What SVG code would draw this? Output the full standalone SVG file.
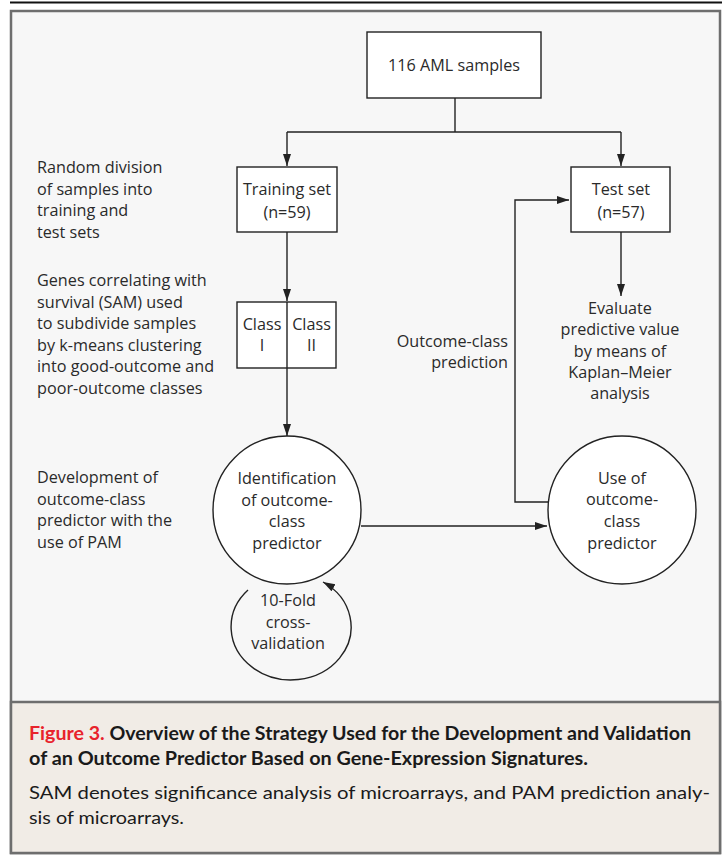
<svg xmlns="http://www.w3.org/2000/svg" width="722" height="855" viewBox="0 0 722 855">
<style>
.t{font-family:"Open Sans","DejaVu Sans",sans-serif;font-size:16.2px;fill:#2a2a2a}
.c{text-anchor:middle}
.r{text-anchor:end}
.box{fill:#fff;stroke:#222;stroke-width:1.4}
.ln{fill:none;stroke:#222;stroke-width:1.4}
.cap{font-family:Lato,"Open Sans",sans-serif;font-size:18px;fill:#1a1a1a}
</style>
<defs>
<marker id="ah" markerUnits="userSpaceOnUse" markerWidth="13" markerHeight="9" refX="12" refY="4" orient="auto">
<path d="M0,0 L12,4 L0,8 z" fill="#222"/>
</marker>
</defs>
<line x1="10" y1="2.5" x2="722" y2="2.5" stroke="#111" stroke-width="2"/>
<rect x="11" y="11" width="709" height="842" fill="#f7f7f7" stroke="#6e6e6e" stroke-width="2.5"/>
<rect x="11" y="702" width="709" height="151" fill="#f1ece6" stroke="#6e6e6e" stroke-width="2.5"/>

<g id="labels-left">
<text class="t" x="37" y="173">Random division</text>
<text class="t" x="37" y="194.5">of samples into</text>
<text class="t" x="37" y="216">training and</text>
<text class="t" x="37" y="237.5">test sets</text>
<text class="t" x="37" y="286">Genes correlating with</text>
<text class="t" x="37" y="307.5">survival (SAM) used</text>
<text class="t" x="37" y="329">to subdivide samples</text>
<text class="t" x="37" y="350.5">by k-means clustering</text>
<text class="t" x="37" y="372">into good-outcome and</text>
<text class="t" x="37" y="393.5">poor-outcome classes</text>
<text class="t" x="37" y="483">Development of</text>
<text class="t" x="37" y="504.5">outcome-class</text>
<text class="t" x="37" y="526">predictor with the</text>
<text class="t" x="37" y="547.5">use of PAM</text>
</g>

<g id="connectors">
<polyline class="ln" points="455,98 455,132"/>
<polyline class="ln" points="287,132 621,132"/>
<line class="ln" x1="287" y1="132" x2="287" y2="166" marker-end="url(#ah)"/>
<line class="ln" x1="621" y1="132" x2="621" y2="166" marker-end="url(#ah)"/>
<line class="ln" x1="287" y1="232" x2="287" y2="301" marker-end="url(#ah)"/>
<line class="ln" x1="287" y1="368" x2="287" y2="436" marker-end="url(#ah)"/>
<line class="ln" x1="621" y1="232" x2="621" y2="296" marker-end="url(#ah)"/>
<line class="ln" x1="361" y1="526" x2="547" y2="526" marker-end="url(#ah)"/>
<polyline class="ln" points="548,502 515,502 515,200 569,200" marker-end="url(#ah)"/>
<path class="ln" d="M248,590 A60 53 0 1 0 323,582" marker-end="url(#ah)"/>
</g>

<g id="n-aml">
<rect class="box" x="367" y="32" width="174" height="66"/>
<text class="t c" x="454" y="71">116 AML samples</text>
</g>

<g id="n-training">
<rect class="box" x="237" y="167" width="100" height="65"/>
<text class="t c" x="287" y="195">Training set</text>
<text class="t c" x="287" y="218">(n=59)</text>
</g>

<g id="n-test">
<rect class="box" x="571" y="167" width="99" height="65"/>
<text class="t c" x="621" y="195">Test set</text>
<text class="t c" x="621" y="218">(n=57)</text>
</g>

<g id="n-class">
<rect class="box" x="237" y="302" width="99" height="66"/>
<line class="ln" x1="287" y1="302" x2="287" y2="368"/>
<text class="t c" x="262" y="330">Class</text>
<text class="t c" x="262" y="351">I</text>
<text class="t c" x="311.5" y="330">Class</text>
<text class="t c" x="311.5" y="351">II</text>
</g>

<g id="n-evaluate">
<text class="t c" x="620" y="314">Evaluate</text>
<text class="t c" x="620" y="335">predictive value</text>
<text class="t c" x="620" y="356.5">by means of</text>
<text class="t c" x="620" y="377.5">Kaplan–Meier</text>
<text class="t c" x="620" y="398.5">analysis</text>
</g>

<g id="n-prediction-label">
<text class="t r" x="508" y="347">Outcome-class</text>
<text class="t r" x="508" y="368">prediction</text>
</g>

<g id="n-identification">
<circle class="box" cx="287" cy="510" r="74"/>
<text class="t c" x="287" y="484">Identification</text>
<text class="t c" x="287" y="505.5">of outcome-</text>
<text class="t c" x="287" y="527">class</text>
<text class="t c" x="287" y="548.5">predictor</text>
</g>

<g id="n-use">
<circle class="box" cx="622" cy="510" r="74"/>
<text class="t c" x="622" y="483.5">Use of</text>
<text class="t c" x="622" y="505">outcome-</text>
<text class="t c" x="622" y="527">class</text>
<text class="t c" x="622" y="548.5">predictor</text>
</g>

<g id="n-crossval">
<text class="t c" x="288" y="606">10-Fold</text>
<text class="t c" x="288" y="627.5">cross-</text>
<text class="t c" x="288" y="649">validation</text>
</g>

<g id="caption">
<text class="cap" x="29" y="740" font-weight="bold" textLength="662" lengthAdjust="spacingAndGlyphs"><tspan fill="#e8232b">Figure 3.</tspan> Overview of the Strategy Used for the Development and Validation</text>
<text class="cap" x="29" y="765" font-weight="bold" textLength="559" lengthAdjust="spacingAndGlyphs">of an Outcome Predictor Based on Gene-Expression Signatures.</text>
<text class="cap" x="29" y="799" textLength="681" lengthAdjust="spacingAndGlyphs">SAM denotes significance analysis of microarrays, and PAM prediction analy-</text>
<text class="cap" x="29" y="824" textLength="155" lengthAdjust="spacingAndGlyphs">sis of microarrays.</text>
</g>
</svg>
